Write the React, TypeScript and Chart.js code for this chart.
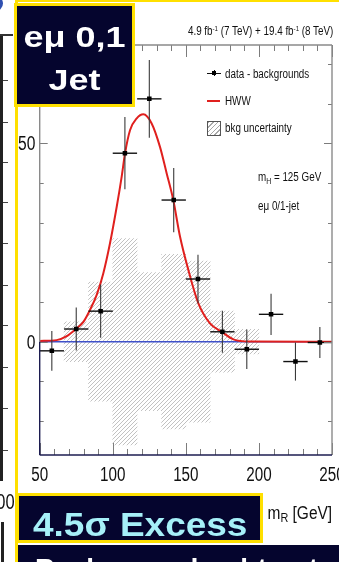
import React, { useEffect, useRef } from "react";
import { Chart, registerables } from "chart.js";

Chart.register(...registerables);

// ---------- data ----------
const binCenters = [58.3, 75.0, 91.7, 108.3, 125.0, 141.7, 158.3, 175.0, 191.7, 208.3, 225.0, 241.7];
const binHalfWidth = 8.33;
const dataMinusBkg = [-2.3, 3.2, 7.7, 47.5, 61.2, 35.7, 15.8, 2.5, -1.9, 6.9, -5.0, -0.2];
const dataError = [5.0, 5.4, 6.7, 9.1, 9.8, 8.1, 6.1, 5.3, 5.0, 5.2, 4.8, 3.9];
const bkgUncertainty = [0, 5.0, 15.0, 26.0, 17.4, 22.0, 20.3, 7.7, 3.1, 0, 0, 0];
const hwwMass = [50, 61.6, 68.5, 74.8, 79.9, 84.4, 89, 93.5, 98.1, 102.7, 106.1, 108.4, 111.8, 116.4, 120.9, 126.6, 132.3, 136.9, 141.4, 146, 151.7, 158.5, 166.5, 174.5, 182.5, 194, 250];
const hwwValues = [0.2, 0.4, 1.4, 3.2, 5.0, 8.0, 11.8, 17.2, 24.8, 34.0, 41.6, 47.5, 53.3, 56.3, 57.3, 55.0, 49.1, 42.4, 35.7, 26.5, 18.1, 9.7, 4.6, 2.5, 0.6, 0.05, 0];
const xRange = [50, 250];
const yRange = [-28.55, 74.77];
const xTicks = [50, 100, 150, 200, 250];
const yTicks = [0, 50];
const xMinorStep = 10;
const yMinorStep = 10;

const SANS = "'Liberation Sans', Arial, sans-serif";
const NAVY = "#05052e";
const YELLOW = "#ffe000";

function makeHatch(ctx: CanvasRenderingContext2D) {
  const pc = document.createElement("canvas");
  pc.width = 4;
  pc.height = 4;
  const p = pc.getContext("2d")!;
  p.strokeStyle = "#b2b2b2";
  p.lineWidth = 0.8;
  p.beginPath();
  p.moveTo(0, 4); p.lineTo(4, 0);
  p.moveTo(-1, 1); p.lineTo(1, -1);
  p.moveTo(3, 5); p.lineTo(5, 3);
  p.stroke();
  return ctx.createPattern(pc, "repeat");
}

const errorBars = {
  id: "errorBars",
  beforeDatasetDraw(chart: any, args: any) {
    if (args.index !== 0) return;
    const { ctx, scales } = chart;
    const x = scales.x, y = scales.y;
    ctx.save();
    binCenters.forEach((c, i) => {
      const px = x.getPixelForValue(c);
      const py = y.getPixelForValue(dataMinusBkg[i]);
      ctx.strokeStyle = "#3a3a3a";
      ctx.lineWidth = 1.1;
      ctx.beginPath();
      ctx.moveTo(px, y.getPixelForValue(dataMinusBkg[i] + dataError[i]));
      ctx.lineTo(px, y.getPixelForValue(dataMinusBkg[i] - dataError[i]));
      ctx.stroke();
      ctx.strokeStyle = "#111";
      ctx.lineWidth = 1.4;
      ctx.beginPath();
      ctx.moveTo(x.getPixelForValue(c - binHalfWidth), py);
      ctx.lineTo(x.getPixelForValue(c + binHalfWidth), py);
      ctx.stroke();
    });
    ctx.restore();
  },
};

const frameTicks = {
  id: "frameTicks",
  afterDatasetsDraw(chart: any) {
    const { ctx, chartArea, scales } = chart;
    const { left, right, top, bottom } = chartArea;
    const x = scales.x, y = scales.y;
    ctx.save();
    ctx.strokeStyle = "#7c7c7c";
    ctx.lineWidth = 1;
    const seg = (a: number, b: number, c: number, d: number) => {
      ctx.beginPath();
      ctx.moveTo(a, b);
      ctx.lineTo(c, d);
      ctx.stroke();
    };
    for (let v = xRange[0]; v <= xRange[1] + 1e-6; v += xMinorStep) {
      const px = Math.round(x.getPixelForValue(v)) + 0.5;
      const major = xTicks.includes(Math.round(v));
      seg(px, bottom, px, bottom - (major ? 12 : 6));
      seg(px, top, px, top + (major ? 12 : 6));
    }
    const yStart = Math.ceil(yRange[0] / yMinorStep) * yMinorStep;
    for (let v = yStart; v <= yRange[1] + 1e-6; v += yMinorStep) {
      const py = Math.round(y.getPixelForValue(v)) + 0.5;
      const major = yTicks.includes(Math.round(v));
      seg(left, py, left + (major ? 8 : 4), py);
      seg(right, py, right - (major ? 8 : 4), py);
    }
    // frame
    ctx.lineWidth = 1.4;
    ctx.strokeStyle = "#8a8a8a";
    const y0 = y.getPixelForValue(0);
    seg(left, top, right, top);
    seg(right, top, right, bottom);
    seg(left, top, left, y0);
    ctx.strokeStyle = "#1c1c50";
    seg(left, y0, left, bottom);
    seg(left, bottom, right, bottom);

    // tick labels (condensed, from the scales' own ticks)
    ctx.fillStyle = "#111";
    ctx.font = `19.5px ${SANS}`;
    ctx.textBaseline = "alphabetic";
    x.ticks.forEach((t: any) => {
      const px = x.getPixelForValue(t.value);
      ctx.save();
      ctx.translate(px, bottom + 26);
      ctx.scale(0.78, 1);
      ctx.textAlign = "center";
      ctx.fillText(String(t.value), 0, 0);
      ctx.restore();
    });
    y.ticks.forEach((t: any) => {
      const py = y.getPixelForValue(t.value);
      ctx.save();
      ctx.translate(left - 4.3, py + 7);
      ctx.scale(0.8, 1);
      ctx.textAlign = "right";
      ctx.fillText(String(t.value), 0, 0);
      ctx.restore();
    });
    ctx.restore();
  },
};

function ChartCanvas() {
  const ref = useRef<HTMLCanvasElement | null>(null);
  useEffect(() => {
    const canvas = ref.current!;
    const ctx = canvas.getContext("2d")!;
    const hatch = makeHatch(ctx);
    const chart = new Chart(canvas, {
      type: "scatter",
      data: {
        datasets: [
          {
            type: "scatter",
            label: "data - backgrounds",
            data: binCenters.map((c, i) => ({ x: c, y: dataMinusBkg[i] })),
            pointStyle: "rect",
            pointRadius: 3.2,
            backgroundColor: "#000",
            borderColor: "#000",
            borderWidth: 0,
            order: 0,
          },
          {
            type: "line",
            label: "HWW",
            data: hwwMass.map((m, i) => ({ x: m, y: hwwValues[i] })),
            borderColor: "#e0201e",
            borderWidth: 2,
            pointRadius: 0,
            cubicInterpolationMode: "monotone",
            fill: false,
            order: 1,
          },
          {
            type: "line",
            label: "zero",
            data: [{ x: xRange[0], y: 0 }, { x: xRange[1], y: 0 }],
            borderColor: "#3f51c9",
            borderWidth: 1.6,
            pointRadius: 0,
            order: 2,
          },
          {
            type: "bar",
            label: "bkg uncertainty",
            data: binCenters.map((c, i) => ({ x: c, y: [-bkgUncertainty[i], bkgUncertainty[i]] })),
            backgroundColor: hatch as any,
            borderWidth: 0,
            barPercentage: 1,
            categoryPercentage: 1,
            grouped: false,
            order: 3,
          } as any,
        ],
      },
      options: {
        animation: false,
        responsive: false,
        maintainAspectRatio: false,
        events: [],
        layout: { padding: { left: 0, top: 45, right: 7, bottom: 67 } },
        plugins: { legend: { display: false }, tooltip: { enabled: false } },
        scales: {
          x: {
            type: "linear",
            min: xRange[0],
            max: xRange[1],
            offset: false,
            afterBuildTicks: (s: any) => { s.ticks = xTicks.map((v) => ({ value: v })); },
            afterFit: (s: any) => { s.height = 40; },
            grid: { display: false },
            border: { display: false },
            ticks: { display: false },
          },
          y: {
            type: "linear",
            min: yRange[0],
            max: yRange[1],
            afterBuildTicks: (s: any) => { s.ticks = yTicks.map((v) => ({ value: v })); },
            afterFit: (s: any) => { s.width = 39.7; },
            grid: { display: false },
            border: { display: false },
            ticks: { display: false },
          },
        },
      },
      plugins: [errorBars, frameTicks],
    } as any);
    return () => chart.destroy();
  }, []);
  return (
    <canvas
      ref={ref}
      width={339}
      height={562}
      style={{ position: "absolute", left: 0, top: 0, width: 339, height: 562 }}
    />
  );
}

function T(props: { x: number; cy: number; size: number; children: any; right?: boolean; sx?: number; color?: string }) {
  const { x, cy, size, children, right, color } = props;
  const sx = props.sx ?? 0.82;
  const style: any = {
    position: "absolute",
    top: cy - size * 0.5,
    fontSize: size,
    lineHeight: `${size}px`,
    fontFamily: SANS,
    color: color || "#111",
    whiteSpace: "nowrap",
    transform: `scaleX(${sx})`,
    transformOrigin: right ? "right center" : "left center",
  };
  if (right) style.right = 339 - x;
  else style.left = x;
  return <div style={style}>{children}</div>;
}

export default function App() {
  const sup = { fontSize: 7.5, position: "relative" as const, top: -4 };
  const sub = { fontSize: "0.7em", position: "relative" as const, top: 3 };
  return (
    <div style={{ position: "fixed", left: 0, top: 0, width: 339, height: 562, overflow: "hidden", background: "#fff" }}>
      <ChartCanvas />

      {/* neighbouring slide fragments on the left */}
      <div style={{ position: "absolute", left: 0, top: 34, width: 3, height: 447, background: "#222" }} />
      <div style={{ position: "absolute", left: 0, top: 34, width: 13, height: 1.5, background: "#333" }} />
      {[80, 122, 162, 202, 243, 285, 325, 367, 408, 450].map((t) => (
        <div key={t} style={{ position: "absolute", left: 3, top: t, width: 5, height: 1, background: "#444" }} />
      ))}
      <div style={{ position: "absolute", left: -12, top: -4, width: 15, height: 15, borderRadius: 8, background: "#2f4fb0" }} />
      <T x={15} cy={502} size={22} right sx={0.75}>200</T>
      <div style={{ position: "absolute", left: 1, top: 522, width: 2.5, height: 42, background: "#222" }} />

      {/* yellow frame */}
      <div style={{ position: "absolute", left: 15, top: 0, width: 340, height: 580, borderTop: `2.5px solid ${YELLOW}`, borderLeft: `3px solid ${YELLOW}`, boxSizing: "border-box" }} />

      {/* annotations */}
      <T x={333} cy={31} size={12} right>
        4.9 fb<span style={sup}>-1</span> (7 TeV) + 19.4 fb<span style={sup}>-1</span> (8 TeV)
      </T>

      {/* legend */}
      <div style={{ position: "absolute", left: 207, top: 72.5, width: 14, height: 1.4, background: "#111" }} />
      <div style={{ position: "absolute", left: 213.5, top: 70, width: 1, height: 6, background: "#111" }} />
      <div style={{ position: "absolute", left: 212, top: 71.2, width: 4, height: 4, background: "#000" }} />
      <T x={225} cy={73.5} size={12}>data - backgrounds</T>
      <div style={{ position: "absolute", left: 207, top: 99.5, width: 13, height: 2.4, background: "#e0201e" }} />
      <T x={225} cy={100.5} size={12}>HWW</T>
      <div
        style={{
          position: "absolute", left: 207, top: 121, width: 14, height: 15, boxSizing: "border-box",
          border: "1px solid #555",
          background: "repeating-linear-gradient(135deg, #a8a8a8 0 1px, #ffffff 1px 3.3px)",
        }}
      />
      <T x={225} cy={128} size={12}>bkg uncertainty</T>

      <T x={258} cy={177} size={12}>m<span style={sub}>H</span> = 125 GeV</T>
      <T x={258} cy={206} size={12}>eμ 0/1-jet</T>

      <T x={332} cy={513} size={18} right sx={0.86}>m<span style={sub}>R</span> [GeV]</T>

      {/* slide boxes */}
      <div
        style={{
          position: "absolute", left: 14, top: 3, width: 121, height: 104, boxSizing: "border-box",
          border: `3px solid ${YELLOW}`, background: NAVY, color: "#fff", fontFamily: SANS, fontWeight: "bold",
          fontSize: 30, lineHeight: "43px", textAlign: "center", paddingTop: 9,
        }}
      >
        <div style={{ transform: "scaleX(1.2)" }}>eμ 0,1</div>
        <div style={{ transform: "scaleX(1.2)" }}>Jet</div>
      </div>

      <div style={{ position: "absolute", left: 18, top: 545, width: 330, height: 40, background: NAVY }}>
        <div style={{ position: "absolute", left: 17, top: 10, fontFamily: SANS, fontWeight: "bold", fontSize: 28, lineHeight: "28px", color: "#fff", whiteSpace: "nowrap" }}>
          Background-subtracted
        </div>
      </div>

      <div
        style={{
          position: "absolute", left: 16, top: 493, width: 247, height: 50, boxSizing: "border-box",
          border: `3px solid ${YELLOW}`, background: NAVY,
        }}
      >
        <div style={{ position: "absolute", left: 14, top: 11.5, fontFamily: SANS, fontWeight: "bold", fontSize: 33, lineHeight: "33px", color: "#a6f0f8", whiteSpace: "nowrap", transform: "scaleX(1.12)", transformOrigin: "left center" }}>
          4.5σ Excess
        </div>
      </div>
    </div>
  );
}
